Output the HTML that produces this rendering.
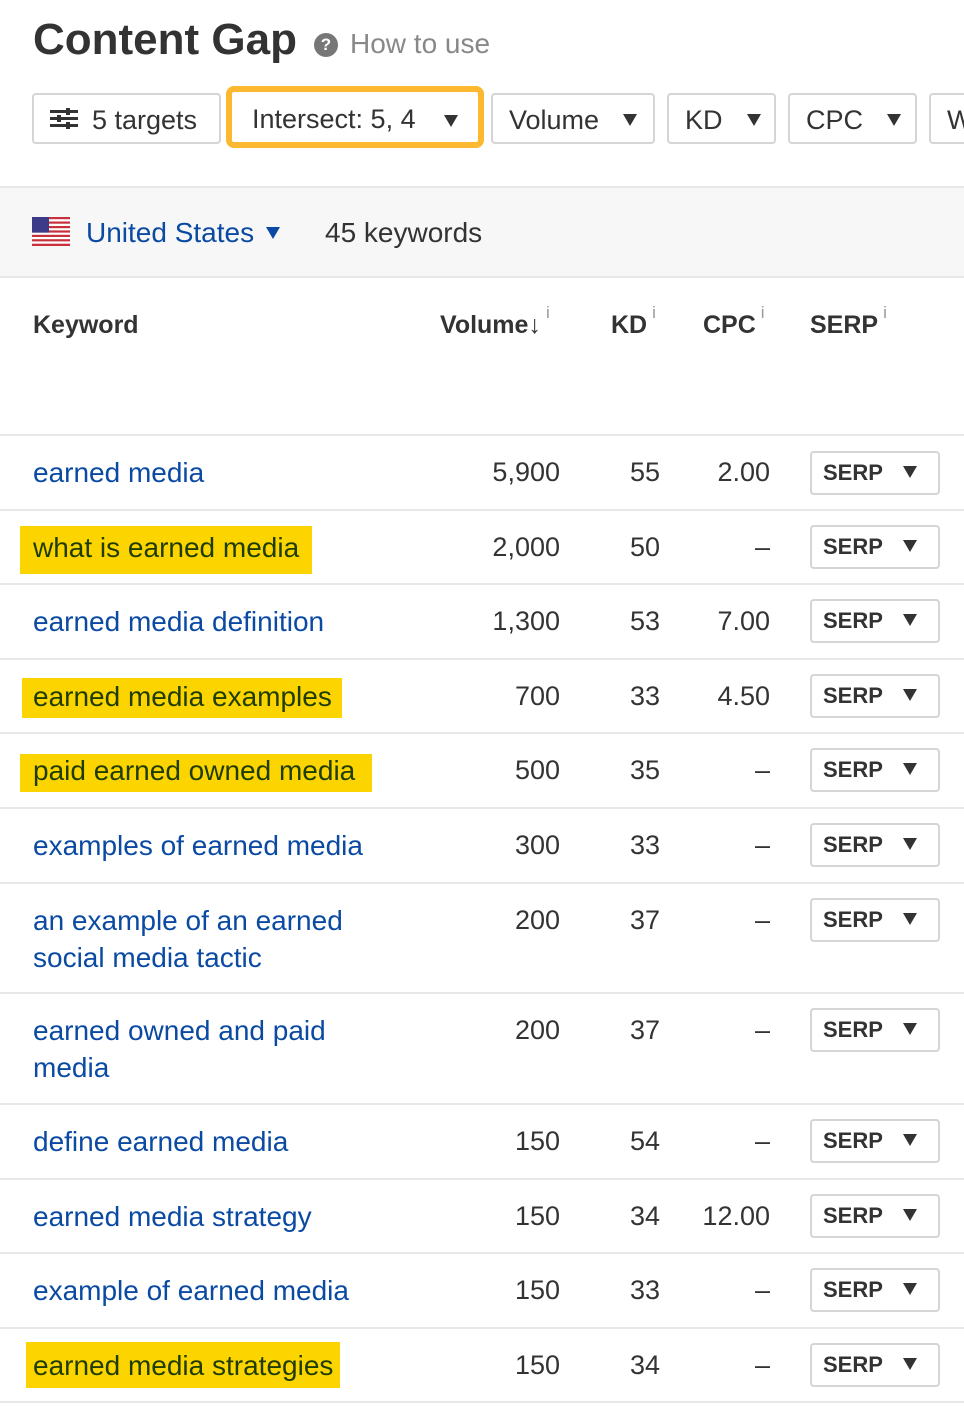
<!DOCTYPE html>
<html><head><meta charset="utf-8"><style>
*{margin:0;padding:0;box-sizing:border-box}
body{width:964px;height:1406px;background:#fff;font-family:"Liberation Sans",Arial,sans-serif;position:relative;overflow:hidden;color:#333}
.a{position:absolute;white-space:nowrap}
.btn{position:absolute;top:93px;height:51px;border:2px solid #d5d5d5;border-radius:4px;background:#fff;font-size:27px;line-height:50px;color:#333;padding-left:16px;white-space:nowrap}
.tri{display:inline-block;width:0;height:0;border-left:7px solid transparent;border-right:7px solid transparent;border-top:12px solid #333;vertical-align:middle;margin-left:10px;position:relative;top:-2px}
.line{position:absolute;left:0;width:964px;height:2px;background:#e8e8e8}
.kw{position:absolute;left:33px;font-size:28px;color:#0b4aa2;line-height:37px;white-space:nowrap}
.hl{position:absolute;background:#fcd400}
.hlt{color:#1f3d00}
.num{position:absolute;font-size:27px;color:#333;text-align:right;line-height:37px}
.serp{position:absolute;left:810px;width:130px;height:44px;border:2px solid #d5d5d5;border-radius:4px;font-size:22px;font-weight:bold;color:#333;line-height:40px;padding-left:11px}
.serp .tri{margin-left:20px}
.hd{position:absolute;top:311px;font-size:25px;font-weight:bold;color:#333;white-space:nowrap}
.sup{font-size:17px;color:#999;font-weight:normal;vertical-align:top;position:relative;top:-8px;margin-left:5px}
</style></head><body>
<div class="a" style="left:33px;top:15px;font-size:44px;font-weight:bold;color:#333">Content Gap</div>
<div class="a" style="left:314px;top:33px;width:24px;height:24px;border-radius:50%;background:#777;color:#fff;font-size:17px;font-weight:bold;text-align:center;line-height:24px">?</div>
<div class="a" style="left:350px;top:28px;font-size:28px;color:#888">How to use</div>

<div class="btn" style="left:32px;width:189px"><span style="display:inline-block;vertical-align:middle;width:28px;height:22px;position:relative;top:-3px;margin-right:14px">
<span style="position:absolute;left:0;top:2px;width:28px;height:3px;background:#333"></span>
<span style="position:absolute;left:0;top:9px;width:28px;height:3px;background:#333"></span>
<span style="position:absolute;left:0;top:16px;width:28px;height:3px;background:#333"></span>
<span style="position:absolute;left:16px;top:0;width:4px;height:7px;background:#333"></span>
<span style="position:absolute;left:7px;top:7px;width:4px;height:7px;background:#333"></span>
<span style="position:absolute;left:16px;top:14px;width:4px;height:7px;background:#333"></span>
</span>5 targets</div>
<div class="a" style="left:226px;top:86px;width:258px;height:62px;border:6px solid #fbb830;border-radius:8px"></div>
<div class="btn" style="left:234px;width:244px;top:92px;height:50px;border-color:#fff">Intersect: 5, 4<span class="tri" style="position:absolute;left:208px;top:21px;margin:0"></span></div>
<div class="btn" style="left:491px;width:164px">Volume<span class="tri" style="margin-left:24px"></span></div>
<div class="btn" style="left:667px;width:109px">KD<span class="tri" style="margin-left:24px"></span></div>
<div class="btn" style="left:788px;width:129px">CPC<span class="tri" style="margin-left:24px"></span></div>
<div class="btn" style="left:929px;width:60px">W</div>

<div class="a" style="left:0;top:186px;width:964px;height:92px;background:#f7f7f7;border-top:2px solid #e8e8e8;border-bottom:2px solid #e8e8e8"></div>
<svg class="a" style="left:32px;top:217px" width="38" height="29" viewBox="0 0 38 29">
<rect width="38" height="29" fill="#fff"/>
<g fill="#c8303c"><rect y="0" width="38" height="2.2"/><rect y="4.5" width="38" height="2.2"/><rect y="9" width="38" height="2.2"/><rect y="13.4" width="38" height="2.2"/><rect y="17.8" width="38" height="2.2"/><rect y="22.2" width="38" height="2.2"/><rect y="26.7" width="38" height="2.3"/></g>
<rect width="17" height="15.6" fill="#3b3b8a"/>
</svg>
<div class="a" style="left:86px;top:217px;font-size:28px;color:#0b4aa2">United States<span class="tri" style="border-top-color:#0b4aa2;margin-left:12px"></span></div>
<div class="a" style="left:325px;top:217px;font-size:28px;color:#333">45 keywords</div>

<div class="hd" style="left:33px">Keyword</div>
<div class="hd" style="left:440px">Volume<span style="font-weight:bold">↓</span><span class="sup">i</span></div>
<div class="hd" style="left:611px">KD<span class="sup">i</span></div>
<div class="hd" style="left:703px">CPC<span class="sup">i</span></div>
<div class="hd" style="left:810px">SERP<span class="sup">i</span></div>

<div class="line" style="top:434px"></div>
<div class="line" style="top:509px"></div>
<div class="line" style="top:583px"></div>
<div class="line" style="top:658px"></div>
<div class="line" style="top:732px"></div>
<div class="line" style="top:807px"></div>
<div class="line" style="top:882px"></div>
<div class="line" style="top:992px"></div>
<div class="line" style="top:1103px"></div>
<div class="line" style="top:1178px"></div>
<div class="line" style="top:1252px"></div>
<div class="line" style="top:1327px"></div>
<div class="line" style="top:1401px"></div>

<div class="hl" style="left:20px;top:526px;width:292px;height:48px"></div>
<div class="hl" style="left:22px;top:678px;width:320px;height:40px"></div>
<div class="hl" style="left:20px;top:754px;width:352px;height:38px"></div>
<div class="hl" style="left:26px;top:1342px;width:314px;height:46px"></div>

<div class="kw" style="top:454px">earned media</div>
<div class="kw hlt" style="top:529px">what is earned media</div>
<div class="kw" style="top:603px">earned media definition</div>
<div class="kw hlt" style="top:678px">earned media examples</div>
<div class="kw hlt" style="top:752px">paid earned owned media</div>
<div class="kw" style="top:827px">examples of earned media</div>
<div class="kw" style="top:902px">an example of an earned<br>social media tactic</div>
<div class="kw" style="top:1012px">earned owned and paid<br>media</div>
<div class="kw" style="top:1123px">define earned media</div>
<div class="kw" style="top:1198px">earned media strategy</div>
<div class="kw" style="top:1272px">example of earned media</div>
<div class="kw hlt" style="top:1347px">earned media strategies</div>

<div class="num" style="left:420px;width:140px;top:454px">5,900</div><div class="num" style="left:580px;width:80px;top:454px">55</div><div class="num" style="left:670px;width:100px;top:454px">2.00</div>
<div class="num" style="left:420px;width:140px;top:529px">2,000</div><div class="num" style="left:580px;width:80px;top:529px">50</div><div class="num" style="left:670px;width:100px;top:529px">–</div>
<div class="num" style="left:420px;width:140px;top:603px">1,300</div><div class="num" style="left:580px;width:80px;top:603px">53</div><div class="num" style="left:670px;width:100px;top:603px">7.00</div>
<div class="num" style="left:420px;width:140px;top:678px">700</div><div class="num" style="left:580px;width:80px;top:678px">33</div><div class="num" style="left:670px;width:100px;top:678px">4.50</div>
<div class="num" style="left:420px;width:140px;top:752px">500</div><div class="num" style="left:580px;width:80px;top:752px">35</div><div class="num" style="left:670px;width:100px;top:752px">–</div>
<div class="num" style="left:420px;width:140px;top:827px">300</div><div class="num" style="left:580px;width:80px;top:827px">33</div><div class="num" style="left:670px;width:100px;top:827px">–</div>
<div class="num" style="left:420px;width:140px;top:902px">200</div><div class="num" style="left:580px;width:80px;top:902px">37</div><div class="num" style="left:670px;width:100px;top:902px">–</div>
<div class="num" style="left:420px;width:140px;top:1012px">200</div><div class="num" style="left:580px;width:80px;top:1012px">37</div><div class="num" style="left:670px;width:100px;top:1012px">–</div>
<div class="num" style="left:420px;width:140px;top:1123px">150</div><div class="num" style="left:580px;width:80px;top:1123px">54</div><div class="num" style="left:670px;width:100px;top:1123px">–</div>
<div class="num" style="left:420px;width:140px;top:1198px">150</div><div class="num" style="left:580px;width:80px;top:1198px">34</div><div class="num" style="left:670px;width:100px;top:1198px">12.00</div>
<div class="num" style="left:420px;width:140px;top:1272px">150</div><div class="num" style="left:580px;width:80px;top:1272px">33</div><div class="num" style="left:670px;width:100px;top:1272px">–</div>
<div class="num" style="left:420px;width:140px;top:1347px">150</div><div class="num" style="left:580px;width:80px;top:1347px">34</div><div class="num" style="left:670px;width:100px;top:1347px">–</div>

<div class="serp" style="top:451px">SERP<span class="tri"></span></div>
<div class="serp" style="top:525px">SERP<span class="tri"></span></div>
<div class="serp" style="top:599px">SERP<span class="tri"></span></div>
<div class="serp" style="top:674px">SERP<span class="tri"></span></div>
<div class="serp" style="top:748px">SERP<span class="tri"></span></div>
<div class="serp" style="top:823px">SERP<span class="tri"></span></div>
<div class="serp" style="top:898px">SERP<span class="tri"></span></div>
<div class="serp" style="top:1008px">SERP<span class="tri"></span></div>
<div class="serp" style="top:1119px">SERP<span class="tri"></span></div>
<div class="serp" style="top:1194px">SERP<span class="tri"></span></div>
<div class="serp" style="top:1268px">SERP<span class="tri"></span></div>
<div class="serp" style="top:1343px">SERP<span class="tri"></span></div>
</body></html>
